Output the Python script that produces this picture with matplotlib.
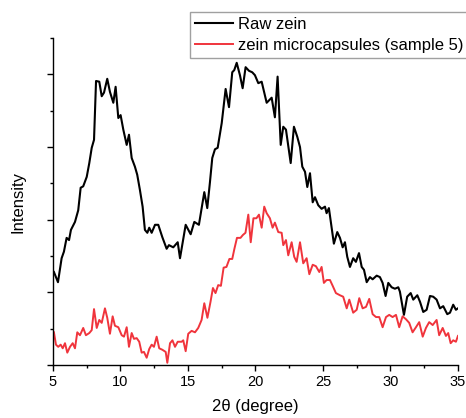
import matplotlib
matplotlib.use('Agg')
import matplotlib.pyplot as plt
from matplotlib.ticker import MultipleLocator

plt.rcParams['font.family'] = ['Liberation Sans', 'DejaVu Sans']

two_theta_raw = [5.07, 5.37, 5.64, 5.81, 6.01, 6.19, 6.33, 6.63, 6.87, 7.05,
                 7.24, 7.50, 7.69, 7.87, 8.04, 8.19, 8.43, 8.61, 8.78, 9.02,
                 9.22, 9.47, 9.64, 9.84, 10.01, 10.21, 10.46, 10.63, 10.83, 11.07,
                 11.24, 11.44, 11.64, 11.81, 11.99, 12.13, 12.31, 12.56, 12.80, 13.10,
                 13.42, 13.59, 13.91, 14.24, 14.41, 14.83, 15.20, 15.47, 15.81, 16.21,
                 16.43, 16.63, 16.80, 17.00, 17.20, 17.50, 17.79, 18.04, 18.28, 18.43,
                 18.61, 18.85, 19.05, 19.27, 19.52, 19.76, 19.96, 20.21, 20.46, 20.83,
                 21.20, 21.44, 21.64, 21.87, 22.06, 22.26, 22.61, 22.85, 23.10, 23.30,
                 23.47, 23.67, 23.84, 24.04, 24.24, 24.41, 24.65, 24.90, 25.15, 25.27,
                 25.44, 25.64, 25.81, 26.06, 26.26, 26.46, 26.63, 26.80, 27.00, 27.24,
                 27.44, 27.67, 27.87, 28.04, 28.24, 28.48, 28.68, 28.98, 29.22, 29.42,
                 29.64, 29.84, 30.09, 30.33, 30.58, 30.70, 31.00, 31.24, 31.50, 31.69,
                 31.99, 32.19, 32.43, 32.68, 32.93, 33.17, 33.42, 33.67, 33.91, 34.21,
                 34.41, 34.65, 34.85, 35.00]
intensity_raw = [128, 114, 147, 156, 175, 172, 186, 197, 213, 244,
                 246, 259, 278, 299, 310, 391, 390, 370, 375, 394,
                 376, 361, 383, 340, 344, 324, 303, 317, 285, 273,
                 262, 241, 218, 186, 182, 189, 182, 193, 193, 176,
                 160, 165, 162, 169, 147, 193, 180, 197, 193, 238,
                 216, 252, 285, 297, 299, 333, 380, 355, 403, 406,
                 416, 399, 381, 410, 405, 403, 399, 388, 390, 361,
                 368, 341, 397, 303, 328, 324, 278, 328, 314, 300,
                 273, 266, 245, 264, 224, 231, 220, 215, 218, 209,
                 216, 190, 167, 183, 175, 162, 169, 149, 135, 147,
                 142, 154, 135, 131, 114, 121, 118, 123, 121, 113,
                 95, 113, 107, 105, 107, 101, 69, 94, 99, 90,
                 96, 87, 73, 76, 95, 94, 90, 78, 81, 70,
                 72, 83, 76, 78]

two_theta_micro = [5.07, 5.22, 5.39, 5.57, 5.72, 5.89, 6.06, 6.26, 6.46, 6.63,
                   6.80, 7.00, 7.24, 7.44, 7.69, 7.87, 8.04, 8.24, 8.43, 8.61,
                   8.85, 9.02, 9.22, 9.42, 9.59, 9.84, 10.09, 10.26, 10.46, 10.63,
                   10.83, 11.00, 11.20, 11.39, 11.57, 11.74, 11.94, 12.13, 12.31, 12.48,
                   12.68, 12.87, 13.10, 13.35, 13.47, 13.67, 13.85, 14.04, 14.24, 14.53,
                   14.65, 14.83, 15.02, 15.27, 15.52, 15.76, 16.01, 16.21, 16.44, 16.67,
                   16.85, 17.04, 17.24, 17.44, 17.64, 17.85, 18.07, 18.28, 18.44, 18.63,
                   18.89, 19.07, 19.26, 19.47, 19.65, 19.85, 20.07, 20.26, 20.46, 20.65,
                   20.83, 21.07, 21.27, 21.44, 21.69, 21.94, 22.06, 22.26, 22.43, 22.68,
                   22.87, 23.05, 23.30, 23.54, 23.79, 23.99, 24.24, 24.48, 24.73, 24.90,
                   25.07, 25.27, 25.52, 25.72, 25.96, 26.26, 26.50, 26.76, 26.95, 27.24,
                   27.50, 27.69, 27.94, 28.19, 28.43, 28.68, 28.93, 29.17, 29.42, 29.67,
                   29.91, 30.16, 30.41, 30.65, 30.90, 31.15, 31.39, 31.64, 31.89, 32.13,
                   32.39, 32.63, 32.87, 33.13, 33.42, 33.61, 33.87, 34.11, 34.28, 34.46,
                   34.65, 34.85, 35.00]
intensity_micro = [45, 28, 25, 28, 23, 30, 17, 25, 30, 23,
                   45, 41, 51, 41, 44, 48, 77, 51, 62, 58,
                   78, 65, 43, 67, 54, 52, 41, 39, 52, 25,
                   44, 36, 37, 32, 17, 18, 10, 22, 28, 25,
                   39, 23, 21, 18, 3, 30, 34, 25, 32, 32,
                   34, 19, 43, 47, 45, 51, 62, 85, 65, 87,
                   106, 99, 110, 109, 134, 135, 146, 146, 160, 175,
                   175, 179, 182, 207, 169, 202, 202, 207, 189, 218,
                   209, 202, 189, 196, 183, 182, 165, 172, 151, 169,
                   149, 142, 169, 140, 147, 125, 138, 136, 128, 135,
                   113, 117, 117, 109, 99, 96, 94, 78, 90, 72,
                   76, 92, 78, 80, 91, 70, 66, 66, 52, 66,
                   69, 66, 69, 52, 67, 63, 58, 45, 52, 59,
                   39, 51, 59, 55, 62, 41, 51, 40, 44, 30,
                   34, 32, 40]

fig = plt.figure(figsize=(4.66, 4.18), dpi=100)
ax = fig.add_axes([0.1137, 0.1268, 0.869, 0.782])

ax.plot(two_theta_raw, intensity_raw, color='black', lw=1.5, label='Raw zein')
ax.plot(two_theta_micro, intensity_micro, color='#f0343c', lw=1.4,
        label='zein microcapsules (sample 5)')

ax.set_xlim(5, 35)
ax.set_ylim(0, 450)

# solo ejes izquierdo e inferior, como en Origin
ax.spines['top'].set_visible(False)
ax.spines['right'].set_visible(False)
ax.spines['left'].set_linewidth(1.0)
ax.spines['bottom'].set_linewidth(1.0)

ax.xaxis.set_major_locator(MultipleLocator(5))
ax.xaxis.set_minor_locator(MultipleLocator(2.5))
ax.yaxis.set_major_locator(MultipleLocator(100))
ax.yaxis.set_minor_locator(MultipleLocator(50))
ax.tick_params(which='major', direction='out', length=4.5, width=1.0, labelsize=10.5, pad=3)
ax.tick_params(which='minor', direction='out', length=2.5, width=1.0)
ax.tick_params(axis='y', labelleft=False)

ax.set_xlabel('2θ (degree)', fontsize=12, labelpad=7)
ax.set_ylabel('Intensity', fontsize=12, labelpad=14)

leg = ax.legend(loc='upper left', bbox_to_anchor=(190 / 466, 1 - 12 / 418),
                bbox_transform=fig.transFigure, fontsize=12, frameon=True,
                fancybox=False, borderpad=0.3, borderaxespad=0,
                handlelength=2.3, handletextpad=0.3, labelspacing=0.35)
leg.get_frame().set_edgecolor('#888888')
leg.get_frame().set_linewidth(1.0)

plt.savefig('out.png', dpi=100)
